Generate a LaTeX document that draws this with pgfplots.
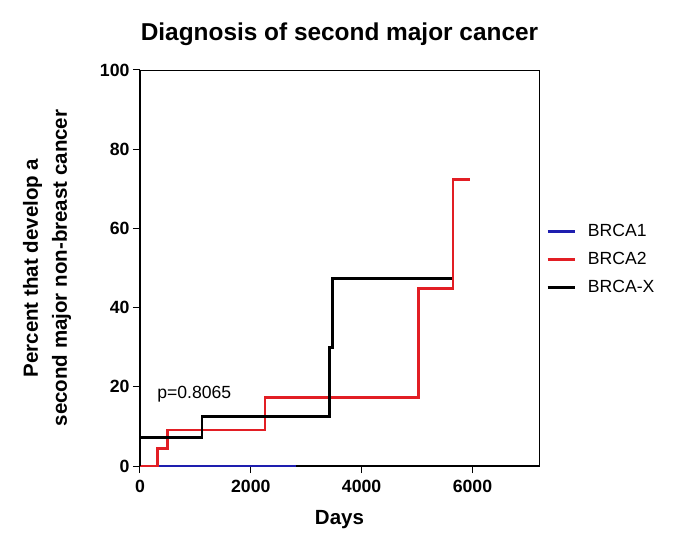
\documentclass[border=0pt]{standalone}
\usepackage{pgfplots}
\pgfplotsset{compat=1.18}
\usepackage{fontspec}
\setmainfont{Liberation Sans}
\definecolor{kmred}{RGB}{226,30,36}
\definecolor{kmblue}{RGB}{30,30,175}
\begin{document}
\begin{tikzpicture}
\begin{axis}[
  name=ax,
  at={(0pt,0pt)}, anchor=south west,
  scale only axis,
  clip=false,
  width=399pt, height=396pt,
  xmin=0, xmax=7200, ymin=0, ymax=100,
  xtick={0,2000,4000,6000},
  ytick={0,20,40,60,80,100},
  xtick pos=left, ytick pos=left,
  tick align=outside,
  major tick length=7pt,
  tick style={line width=1pt, black},
  axis line style={line width=0.8pt, black},
  /pgf/number format/assume math mode=true,
  scaled x ticks=false,
  xticklabel style={font=\fontsize{17.7}{20}\selectfont\bfseries, yshift=-4pt},
  yticklabel style={font=\fontsize{17.7}{20}\selectfont\bfseries},
  /pgf/number format/1000 sep={},
  title={Diagnosis of second major cancer},
  title style={font=\fontsize{24.4}{28}\selectfont\bfseries, yshift=15pt},
  xlabel={Days},
  xlabel style={font=\fontsize{20.5}{24}\selectfont\bfseries, yshift=-10pt},
  ylabel={Percent that develop a\\second major non-breast cancer},
  ylabel style={font=\fontsize{20.5}{29}\selectfont\bfseries, align=center, yshift=22pt},
  legend style={at={(axis description cs:1.01,0.62)}, anchor=north west, draw=none, fill=none,
    font=\fontsize{17.6}{20}\selectfont, row sep=10pt, legend cell align=left,
    nodes={inner xsep=12pt}},
  legend image code/.code={\draw[#1] (0pt,0pt) -- (27pt,0pt);},
]
\draw[line width=2pt, black] (rel axis cs:0,1) -- (rel axis cs:0,0) -- (rel axis cs:1,0);
\addplot[kmblue, line width=2.8pt, const plot] coordinates {(0,0) (2808,0)};
\addlegendentry{BRCA1}
\addplot[kmred, line width=2.8pt, const plot] coordinates {
(0,0) (312,4.5) (492,9.1) (2254,17.3) (5031,44.9) (5650,72.4) (5961,72.4)};
\addlegendentry{BRCA2}
\addplot[black, line width=2.8pt, const plot] coordinates {
(0,0) (0,7.1) (1118,12.4) (3426,30.0) (3468,47.4) (5632,47.4)};
\addlegendentry{BRCA-X}
\node[anchor=west, font=\fontsize{17.6}{20}\selectfont] at (axis cs:250,18.2) {p=0.8065};
\end{axis}
\path (-140pt,-78pt) rectangle ++(685pt,544pt);
\end{tikzpicture}
\end{document}
